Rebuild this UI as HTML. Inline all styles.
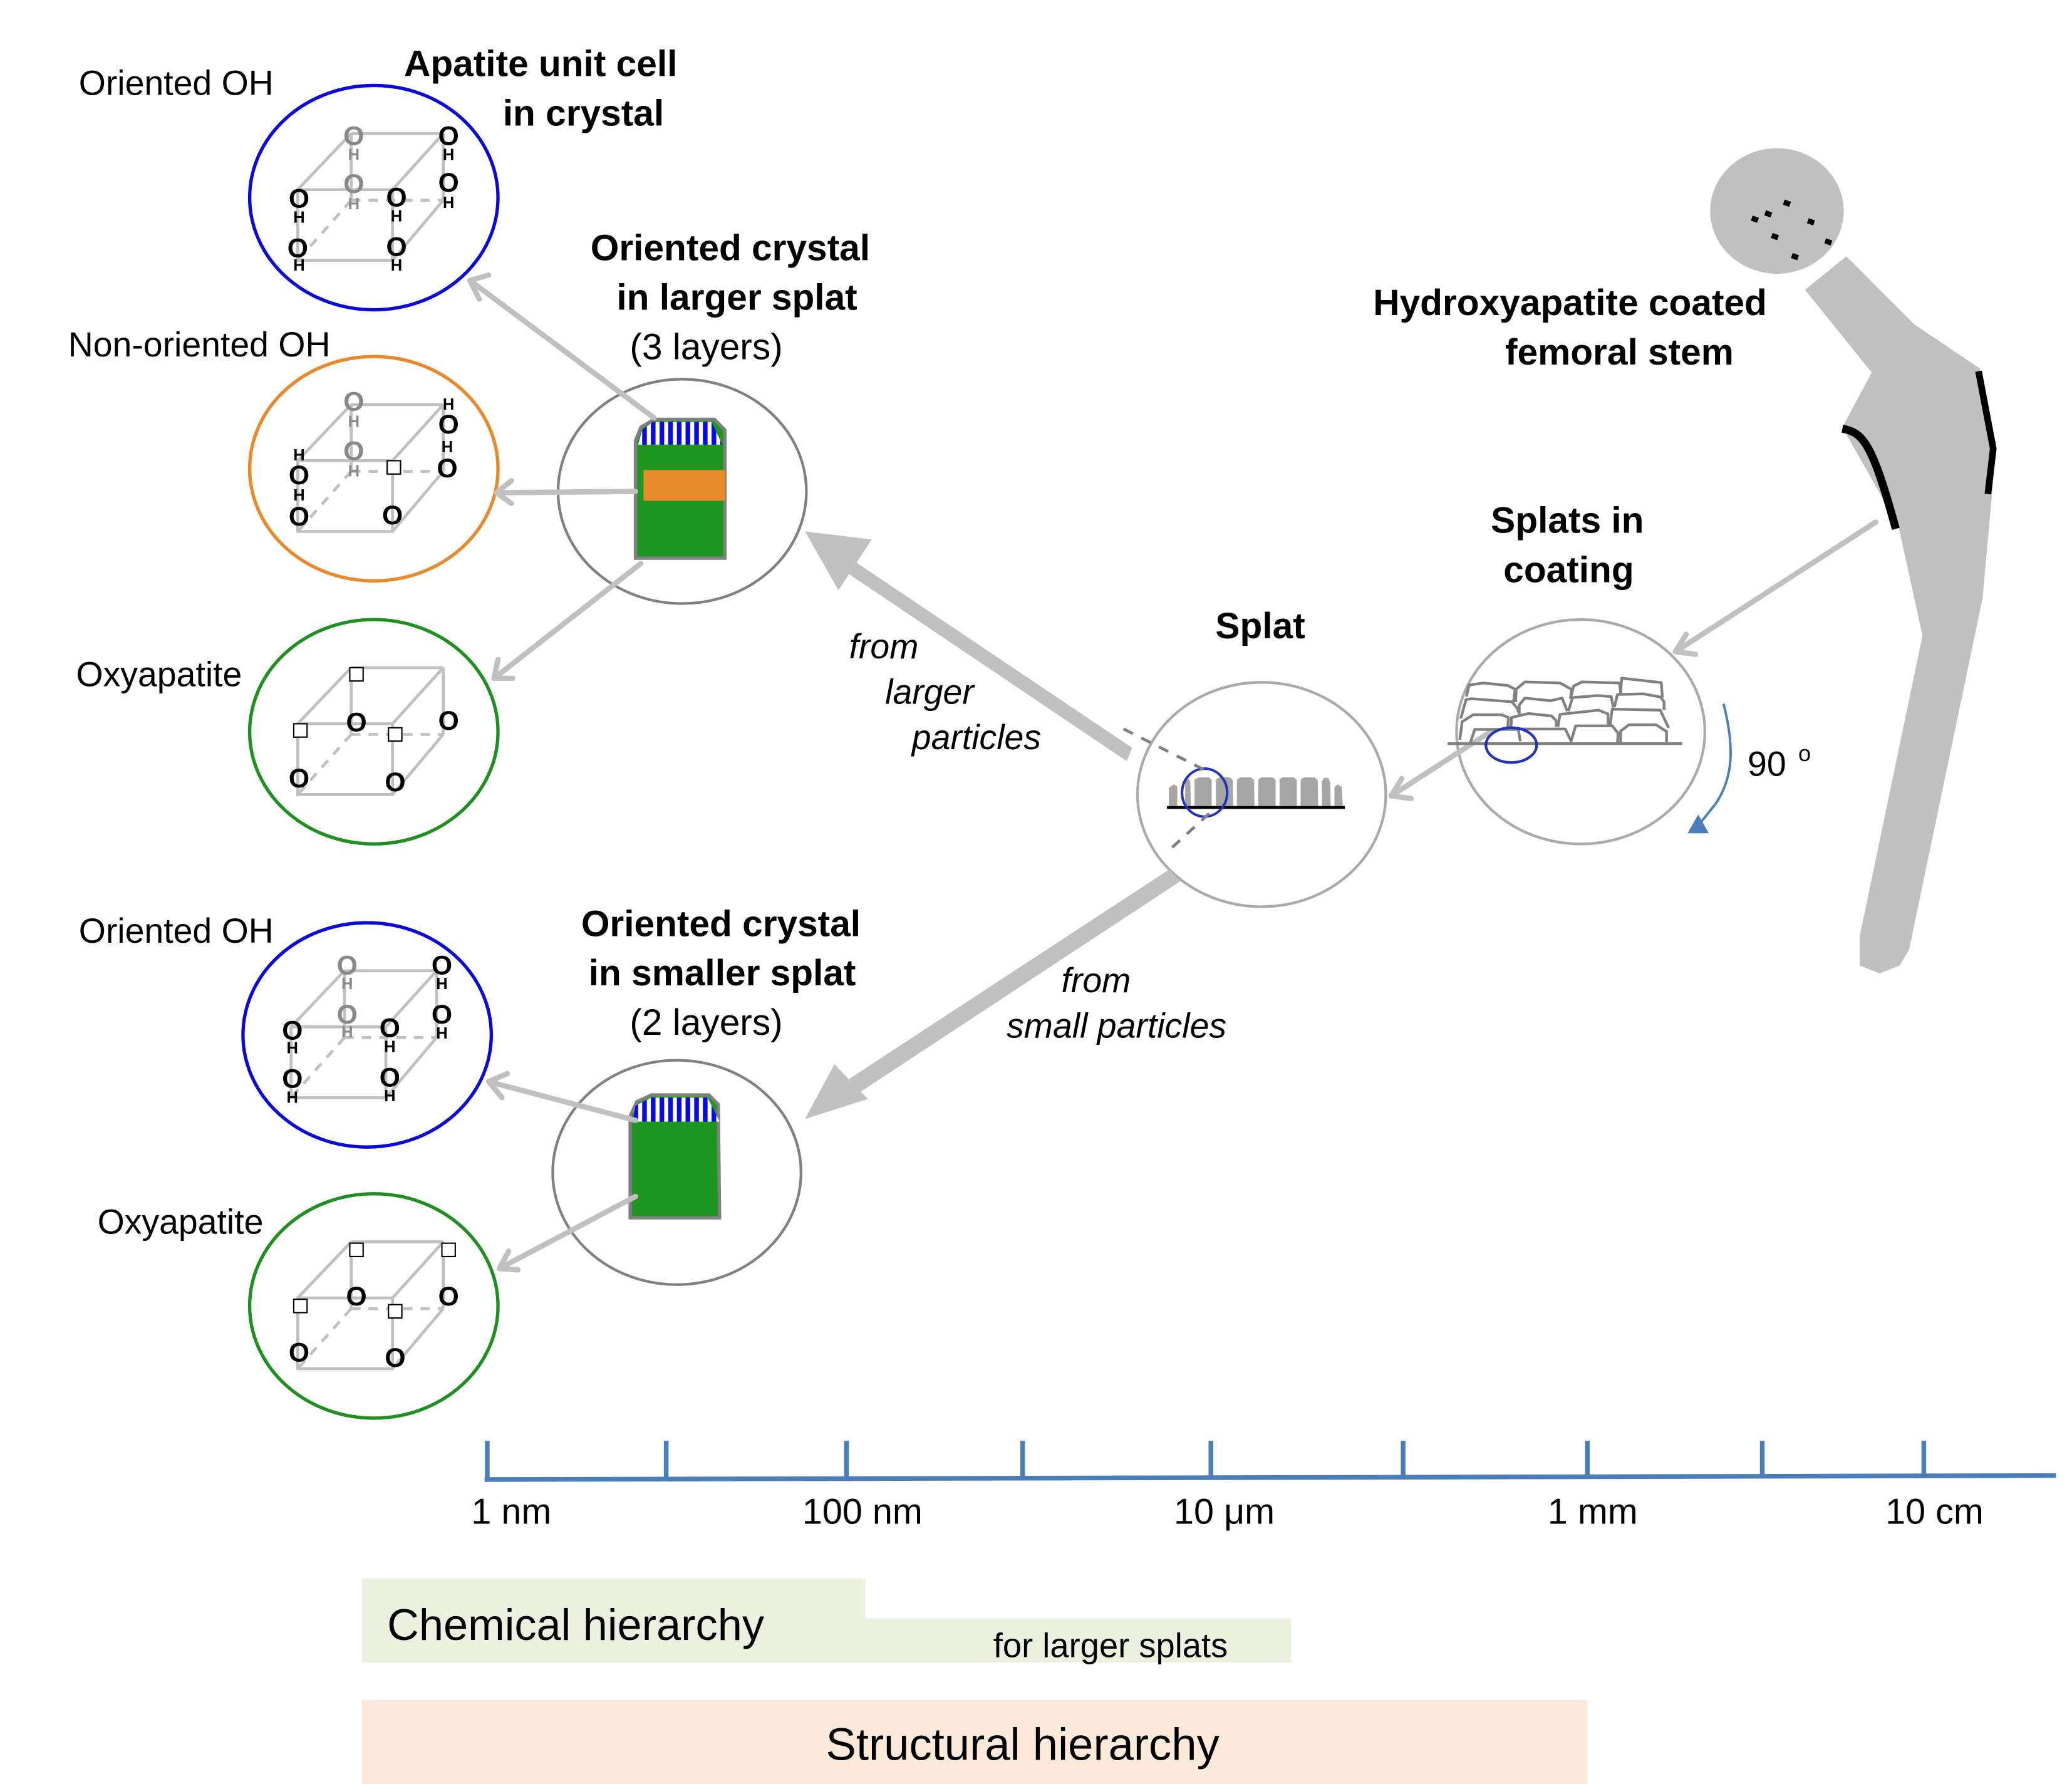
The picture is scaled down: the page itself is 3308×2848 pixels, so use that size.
<!DOCTYPE html>
<html><head><meta charset="utf-8"><style>
html,body{margin:0;padding:0;background:#fff}
svg{display:block}
text{font-family:"Liberation Sans",sans-serif}
</style></head><body>
<svg width="3308" height="2848" viewBox="0 0 1552 1336" preserveAspectRatio="none" xmlns="http://www.w3.org/2000/svg">
<defs>
<g id="cube" fill="none" stroke="#c0c0c0" stroke-width="2.2">
<rect x="-57" y="-6" width="71" height="53"/>
<line x1="-17" y1="-48" x2="52" y2="-48"/>
<line x1="52" y1="-48" x2="52" y2="2"/>
<line x1="-17" y1="-48" x2="-17" y2="2"/>
<line x1="-57" y1="-6" x2="-17" y2="-48"/>
<line x1="14" y1="-6" x2="52" y2="-48"/>
<line x1="14" y1="47" x2="52" y2="2"/>
<line x1="-17" y1="2" x2="-57" y2="47" stroke-dasharray="7,6"/>
<line x1="-17" y1="2" x2="52" y2="2" stroke-dasharray="7,6"/>
</g>
<pattern id="str" width="6.5" height="10" patternUnits="userSpaceOnUse"><rect width="6.5" height="10" fill="#fff"/><rect width="3.5" height="10" fill="#0a0ae8"/></pattern>
</defs>

<ellipse cx="280" cy="148" rx="93" ry="84" fill="none" stroke="#0a0ad8" stroke-width="2.5"/>
<ellipse cx="280" cy="351" rx="93" ry="84" fill="none" stroke="#e88a2c" stroke-width="2.5"/>
<ellipse cx="280" cy="548" rx="93" ry="84" fill="none" stroke="#1f8f1f" stroke-width="2.5"/>
<ellipse cx="275" cy="775" rx="93" ry="84" fill="none" stroke="#0a0ad8" stroke-width="2.5"/>
<ellipse cx="280" cy="978" rx="93" ry="84" fill="none" stroke="#1f8f1f" stroke-width="2.5"/>
<ellipse cx="511" cy="368" rx="93" ry="84" fill="none" stroke="#808080" stroke-width="2"/>
<ellipse cx="507" cy="878" rx="93" ry="84" fill="none" stroke="#808080" stroke-width="2"/>
<ellipse cx="945" cy="595" rx="93" ry="84" fill="none" stroke="#aaaaaa" stroke-width="2"/>
<ellipse cx="1184" cy="548" rx="93" ry="84" fill="none" stroke="#aaaaaa" stroke-width="2"/>

<use href="#cube" x="280" y="148"/>
<use href="#cube" x="280" y="351"/>
<use href="#cube" x="280" y="548"/>
<use href="#cube" x="275" y="775"/>
<use href="#cube" x="280" y="978"/>

<g font-weight="bold" text-anchor="middle" dominant-baseline="central">
<g transform="translate(280,148)">
<g fill="#888"><text x="-15" y="-46" font-size="20">O</text><text x="-15" y="-32" font-size="12">H</text>
<text x="-15" y="-10" font-size="20">O</text><text x="-15" y="5" font-size="12">H</text></g>
<text x="56" y="-46" font-size="20">O</text><text x="56" y="-32" font-size="12">H</text>
<text x="56" y="-11" font-size="20">O</text><text x="56" y="4" font-size="12">H</text>
<text x="-56" y="1" font-size="20">O</text><text x="-56" y="15" font-size="12">H</text>
<text x="-57" y="38" font-size="20">O</text><text x="-56" y="51" font-size="12">H</text>
<text x="17" y="0" font-size="20">O</text><text x="17" y="14" font-size="12">H</text>
<text x="17" y="37" font-size="20">O</text><text x="17" y="51" font-size="12">H</text>
</g>
<g transform="translate(280,351)">
<g fill="#888"><text x="-15" y="-50" font-size="20">O</text><text x="-15" y="-35" font-size="12">H</text>
<text x="-15" y="-13" font-size="20">O</text><text x="-15" y="2" font-size="12">H</text></g>
<text x="56" y="-48" font-size="12">H</text><text x="56" y="-33" font-size="20">O</text>
<text x="55" y="-16" font-size="12">H</text><text x="55" y="0" font-size="20">O</text>
<text x="-56" y="-10" font-size="12">H</text><text x="-56" y="5" font-size="20">O</text>
<text x="-56" y="20" font-size="12">H</text><text x="-56" y="36" font-size="20">O</text>
<text x="14" y="35" font-size="20">O</text>
</g>
<g transform="translate(280,548)">
<text x="-13" y="-7" font-size="20">O</text>
<text x="56" y="-8" font-size="20">O</text>
<text x="-56" y="35" font-size="20">O</text>
<text x="16" y="38" font-size="20">O</text>
</g>
<g transform="translate(275,775)">
<g fill="#888"><text x="-15" y="-52" font-size="20">O</text><text x="-15" y="-38" font-size="12">H</text>
<text x="-15" y="-15" font-size="20">O</text><text x="-15" y="-2" font-size="12">H</text></g>
<text x="56" y="-52" font-size="20">O</text><text x="56" y="-38" font-size="12">H</text>
<text x="56" y="-15" font-size="20">O</text><text x="56" y="-1" font-size="12">H</text>
<text x="-56" y="-3" font-size="20">O</text><text x="-56" y="10" font-size="12">H</text>
<text x="-56" y="33" font-size="20">O</text><text x="-56" y="47" font-size="12">H</text>
<text x="17" y="-5" font-size="20">O</text><text x="17" y="9" font-size="12">H</text>
<text x="17" y="32" font-size="20">O</text><text x="17" y="46" font-size="12">H</text>
</g>
<g transform="translate(280,978)">
<text x="-13" y="-7" font-size="20">O</text>
<text x="56" y="-7" font-size="20">O</text>
<text x="-56" y="35" font-size="20">O</text>
<text x="16" y="39" font-size="20">O</text>
</g>
</g>
<g fill="#fff" stroke="#000" stroke-width="1">
<rect x="290" y="345" width="10" height="10"/>
<rect x="262" y="500" width="10" height="10"/>
<rect x="220" y="542" width="10" height="10"/>
<rect x="291" y="545" width="10" height="10"/>
<rect x="262" y="931" width="10" height="10"/>
<rect x="331" y="931" width="10" height="10"/>
<rect x="220" y="973" width="10" height="10"/>
<rect x="291" y="977" width="10" height="10"/>
</g>

<path d="M476,330 L480,320 L490,314 L535,314 L543,322 L543,418 L476,418 Z" fill="#1f961f" stroke="#808080" stroke-width="2.5"/>
<path d="M478,333 L481,322 L489,316 L533,316 L541,333 Z" fill="url(#str)"/>
<rect x="482" y="352" width="61" height="23" fill="#e88a2c"/>
<path d="M472,836 L477,825 L488,820 L531,820 L538,827 L539,912 L472,912 Z" fill="#1f961f" stroke="#808080" stroke-width="2.5"/>
<path d="M474,840 L476,828 L488,822 L530,822 L539,840 Z" fill="url(#str)"/>

<g stroke="#c0c0c0" stroke-width="4" fill="none" stroke-linecap="round" stroke-linejoin="round">
<line x1="490" y1="313" x2="352" y2="210"/><polyline points="366,206 352,210 359,224"/>
<line x1="476" y1="368" x2="372" y2="369"/><polyline points="383,360 372,369 383,377"/>
<line x1="480" y1="422" x2="370" y2="508"/><polyline points="373,494 370,508 384,508"/>
<line x1="476" y1="839" x2="366" y2="810"/><polyline points="380,804 366,810 376,822"/>
<line x1="476" y1="896" x2="374" y2="950"/><polyline points="381,937 374,950 388,951"/>
<line x1="1118" y1="547" x2="1042" y2="596"/><polyline points="1050,583 1042,596 1057,598"/>
<line x1="1405" y1="391" x2="1255" y2="488"/><polyline points="1263,475 1255,488 1270,490"/>
</g>

<g fill="#c0c0c0">
<polygon points="848,560 844,570 636,430 641,421"/>
<polygon points="603,398 653,404 628,442"/>
<polygon points="876,651 884,660 644,818 636,808"/>
<polygon points="603,838 625,797 650,823"/>
</g>

<g transform="translate(854.1,553.7) scale(0.1564)">
<g fill="#a6a6a6">
<path d="M137,318 L137,232 L160,215 L177,225 L177,318Z"/>
<path d="M215,318 L215,195 L232,188 L240,205 L242,318Z"/>
<path d="M260,318 L260,192 L280,182 L330,182 L342,195 L342,318Z"/>
<path d="M362,318 L362,192 L380,182 L430,182 L443,195 L445,318Z"/>
<path d="M463,318 L463,192 L480,182 L530,182 L545,195 L547,318Z"/>
<path d="M565,318 L565,192 L580,182 L635,182 L648,195 L648,318Z"/>
<path d="M667,318 L667,192 L680,182 L735,182 L750,195 L750,318Z"/>
<path d="M768,318 L768,192 L785,182 L835,182 L850,195 L852,318Z"/>
<path d="M870,318 L870,200 L882,183 L900,185 L910,205 L912,318Z"/>
<path d="M930,318 L930,228 L945,216 L965,228 L970,318Z"/>
</g>
<rect x="128" y="319" width="852" height="14" fill="#000"/>
<ellipse cx="308" cy="255" rx="108" ry="115" fill="none" stroke="#2233bb" stroke-width="12"/>
<g stroke="#808080" stroke-width="14" stroke-dasharray="50,45" fill="none">
<line x1="-80" y1="-50" x2="305" y2="145"/>
<line x1="330" y1="355" x2="150" y2="520"/>
</g>
</g>

<g transform="translate(1069.9,492.7) scale(0.1565)" fill="none" stroke="#808080" stroke-width="13" stroke-linejoin="round">
<line x1="92" y1="410" x2="1215" y2="410"/>
<polyline points="182,185 195,130 262,120 380,132 415,150 408,210"/>
<polyline points="418,212 420,150 462,115 630,120 685,150 680,195"/>
<polyline points="680,195 695,135 735,115 915,120 920,170"/>
<polyline points="920,170 925,97 1115,118 1120,190"/>
<polyline points="155,290 180,200 205,195 400,210 425,240 435,270"/>
<polyline points="435,270 435,225 462,192 585,205 640,192 665,255"/>
<polyline points="670,255 690,190 810,180 875,185 885,238"/>
<polyline points="890,235 905,175 1030,172 1112,188 1128,210 1128,248"/>
<polyline points="150,392 162,305 215,272 350,272 383,285 380,340"/>
<polyline points="395,340 398,285 480,266 590,278 612,300 612,330"/>
<polyline points="620,330 630,270 815,250 860,268 860,320"/>
<polyline points="870,320 880,245 1110,250 1150,335"/>
<polyline points="200,408 222,342 430,342 440,398"/>
<polyline points="440,340 655,340 683,398 705,325 880,325 908,360 905,408"/>
<polyline points="920,408 920,350 960,320 1090,320 1140,352 1140,408"/>
</g>
<ellipse cx="1132" cy="558" rx="19" ry="13" fill="none" stroke="#2233bb" stroke-width="2"/>

<path d="M1291,527 C1298,555 1300,580 1285,602 L1273,617" fill="none" stroke="#4a7ebb" stroke-width="1.8"/>
<polygon points="1264,624 1280,624 1272,610" fill="#4a7ebb"/>
<text x="1309" y="581" font-size="26">90</text><text x="1347" y="570" font-size="17">o</text>

<ellipse cx="1331" cy="158" rx="50" ry="47" fill="#c0c0c0"/>
<g fill="#000">
<rect x="1336" y="150" width="5" height="4" transform="rotate(20 1338 152)"/>
<rect x="1322" y="158" width="5" height="4" transform="rotate(20 1324 160)"/>
<rect x="1312" y="162" width="5" height="4" transform="rotate(20 1314 164)"/>
<rect x="1354" y="164" width="5" height="4" transform="rotate(20 1356 166)"/>
<rect x="1327" y="175" width="5" height="4" transform="rotate(20 1329 177)"/>
<rect x="1367" y="179" width="5" height="4" transform="rotate(20 1369 181)"/>
<rect x="1342" y="190" width="5" height="4" transform="rotate(20 1344 192)"/>
</g>
<polygon points="1383,192 1434,243 1483,276 1495,336 1491,382 1485,448 1430,711 1423,723 1408,729 1393,723 1393,701 1440,476 1422,394 1380,320 1402,279 1352,217" fill="#c0c0c0"/>
<polyline points="1482,278 1493,336 1489,370" fill="none" stroke="#000" stroke-width="5"/>
<path d="M1380,321 C1395,324 1402,330 1420,396" fill="none" stroke="#000" stroke-width="6"/>

<g font-size="26" fill="#000">
<text x="59" y="71">Oriented OH</text>
<text x="51" y="267">Non-oriented OH</text>
<text x="57" y="514">Oxyapatite</text>
<text x="59" y="706">Oriented OH</text>
<text x="73" y="924">Oxyapatite</text>
</g>
<g font-size="27.5" font-weight="bold" text-anchor="middle">
<text x="405" y="57">Apatite unit cell</text>
<text x="437" y="94">in crystal</text>
<text x="547" y="195">Oriented crystal</text>
<text x="552" y="232">in larger splat</text>
<text x="540" y="701">Oriented crystal</text>
<text x="541" y="738">in smaller splat</text>
<text x="944" y="478">Splat</text>
<text x="1174" y="399">Splats in</text>
<text x="1175" y="436">coating</text>
<text x="1176" y="236">Hydroxyapatite coated</text>
<text x="1213" y="273">femoral stem</text>
</g>
<g font-size="27.5" text-anchor="middle">
<text x="529" y="269">(3 layers)</text>
<text x="529" y="775">(2 layers)</text>
</g>
<g font-size="26" font-style="italic">
<text x="636" y="493">from</text>
<text x="663" y="527">larger</text>
<text x="683" y="561">particles</text>
<text x="795" y="743">from</text>
<text x="754" y="777">small particles</text>
</g>

<g stroke="#4a7ebb" stroke-width="3.5" fill="none">
<line x1="363" y1="1108" x2="1540" y2="1105"/>
<line x1="365" y1="1079" x2="365" y2="1108"/>
<line x1="499" y1="1079" x2="499" y2="1108"/>
<line x1="634" y1="1079" x2="634" y2="1108"/>
<line x1="766" y1="1079" x2="766" y2="1108"/>
<line x1="907" y1="1079" x2="907" y2="1108"/>
<line x1="1051" y1="1079" x2="1051" y2="1107"/>
<line x1="1189" y1="1079" x2="1189" y2="1107"/>
<line x1="1320" y1="1079" x2="1320" y2="1106"/>
<line x1="1441" y1="1079" x2="1441" y2="1106"/>
</g>
<g font-size="27" text-anchor="middle">
<text x="383" y="1141">1 nm</text>
<text x="646" y="1141">100 nm</text>
<text x="917" y="1141">10 μm</text>
<text x="1193" y="1141">1 mm</text>
<text x="1449" y="1141">10 cm</text>
</g>

<path d="M271,1182 L648,1182 L648,1212 L967,1212 L967,1245 L271,1245 Z" fill="#ebf1de"/>
<text x="290" y="1228" font-size="33">Chemical hierarchy</text>
<text x="744" y="1241" font-size="25.5">for larger splats</text>
<rect x="271" y="1273" width="918" height="63" fill="#fbe9d9"/>
<text x="766" y="1318" font-size="34" text-anchor="middle">Structural hierarchy</text>
</svg>
</body></html>
